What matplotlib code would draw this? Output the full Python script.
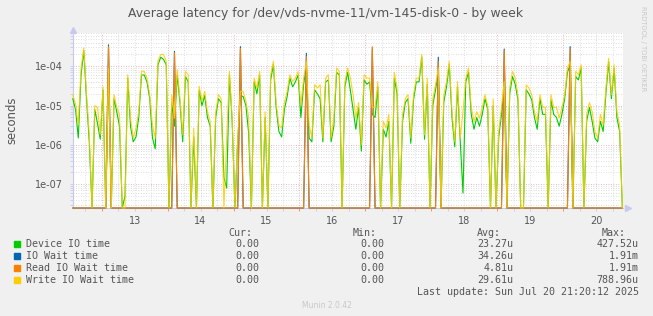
import numpy as np
import pandas as pd
import matplotlib
matplotlib.use("Agg")
import matplotlib.pyplot as plt
import matplotlib.dates as mdates
from matplotlib.ticker import FixedLocator, LogLocator, FuncFormatter, NullFormatter
from matplotlib.patches import Rectangle

# hourly averages in microseconds, starting 2025-07-12 13:30 (0 = idle)
write_wait = [19, 11, 3.2, 90, 290, 19, 1.8, 0, 10, 9, 1.8, 30, 0, 90, 0, 19, 9, 6, 0, 0,
              61, 4.8, 1.5, 2.7, 7, 74, 74, 50, 19, 3.2, 1.5, 134, 200, 200, 134, 0, 19, 4.8, 82, 15,
              1.8, 74, 61, 0, 2.7, 0, 31, 13, 23, 7, 4, 0, 7, 19, 15, 0, 1.5, 74, 4.8, 0,
              1.5, 23, 23, 13, 5, 0, 50, 28, 74, 0, 7, 0, 61, 134, 12, 3.2, 2.7, 12, 23, 61,
              41, 50, 74, 10, 50, 130, 3.2, 1.5, 34, 28, 34, 1.5, 50, 61, 1.5, 4.8, 90, 74, 0, 40,
              90, 50, 19, 4.8, 12, 1.0, 61, 50, 50, 9, 9, 41, 0, 4, 2.7, 6, 0, 70, 28, 0,
              6, 15, 19, 1.5, 19, 50, 50, 200, 1.8, 50, 0, 15, 34, 90, 0, 19, 41, 134, 7, 1.2,
              41, 1.5, 7, 50, 90, 9, 4, 7, 4.8, 9, 19, 10, 0, 15, 0, 2.2, 9, 41, 0, 28,
              74, 50, 19, 0, 0, 34, 28, 19, 7, 4, 19, 9, 9, 0, 19, 9, 9, 4.8, 9, 19,
              90, 134, 0, 74, 61, 110, 0, 6, 12, 7, 2.2, 1.5, 6, 3.2, 28, 160, 19, 110, 7, 3.2,
              0]
device_io = [15, 8, 1.5, 60, 250, 15, 1.2, 0, 8, 3.5, 1.4, 25, 0, 70, 0, 15, 7, 3, 0, 0.05,
             50, 3, 1.2, 1.6, 5, 60, 60, 40, 15, 1.5, 0.8, 110, 170, 150, 110, 0, 12, 3, 60, 12,
             1.2, 55, 40, 0, 1.6, 0, 25, 10, 18, 5, 3, 0, 5, 15, 12, 0.15, 0.08, 60, 4, 0,
             1.2, 18, 17, 10, 2, 0, 40, 20, 60, 0, 5, 0, 45, 110, 9, 2.2, 1.6, 8, 17, 50,
             30, 40, 60, 5, 35, 100, 1.5, 1.2, 25, 20, 15, 1.2, 40, 45, 1.2, 3, 70, 60, 0, 30,
             70, 25, 8, 2.5, 9, 0.7, 45, 35, 40, 6, 5, 30, 0, 2.5, 1.6, 4, 0, 50, 20, 0,
             4, 12, 15, 1.1, 14, 40, 40, 170, 1.4, 35, 0, 10, 25, 70, 0, 12, 30, 110, 5, 0.9,
             30, 1.2, 0.06, 40, 70, 6, 2.5, 5, 3, 6, 15, 8, 0, 10, 0, 1.6, 6, 30, 0, 20,
             55, 35, 14, 0, 0, 25, 20, 14, 5, 2.5, 15, 6, 6, 0, 14, 6, 5, 3, 6, 15,
             70, 110, 0, 55, 45, 90, 0, 4, 9, 4, 1.5, 1.2, 4, 2.2, 20, 130, 15, 90, 5, 2.2,
             0]
# nightly read bursts (hour index, microseconds)
spike_hour = [13, 37, 61, 85, 109, 133, 157, 181]
read_spike = [316, 220, 285, 176, 315, 130, 254, 275]
io_wait_spike = [350, 240, 315, 213, 280, 170, 275, 316]

labels = ["Device IO time", "IO Wait time", "Read IO Wait time", "Write IO Wait time"]
colors = ["#00CC00", "#0066B3", "#FF8000", "#FFCC00"]
cur = ["0.00", "0.00", "0.00", "0.00"]
mins = ["0.00", "0.00", "0.00", "0.00"]
avgs = ["23.27u", "34.26u", "4.81u", "29.61u"]
maxs = ["427.52u", "1.91m", "1.91m", "788.96u"]

times = pd.date_range("2025-07-12 13:30", periods=len(write_wait), freq="h")
read_wait = np.zeros(len(times))
read_wait[spike_hour] = read_spike
io_wait = np.zeros(len(times))
io_wait[spike_hour] = io_wait_spike

ymin, ymax = 2.5e-8, 7.0e-4
series = [device_io, io_wait, read_wait, write_wait]
alphas = [1.0, 1.0, 1.0, 0.85]

txt = "#555555"
fig = plt.figure(figsize=(6.53, 3.16), dpi=100, facecolor="#F0F0F0")
ax = fig.add_axes([72.7 / 653, 1 - 208 / 316, (623.3 - 72.7) / 653, (208 - 33) / 316])
ax.set_facecolor("white")

for vals, c, a in zip(series, colors, alphas):
    y = np.maximum(np.asarray(vals, dtype=float) * 1e-6, ymin)
    ax.plot(times, y, color=c, lw=0.8, alpha=a, clip_on=False, zorder=3)

ax.set_yscale("log")
ax.set_ylim(ymin, ymax)
ax.set_xlim(pd.Timestamp("2025-07-12 13:28"), pd.Timestamp("2025-07-20 21:50"))

ax.yaxis.set_major_locator(FixedLocator([1e-7, 1e-6, 1e-5, 1e-4]))
ax.yaxis.set_major_formatter(FuncFormatter(lambda v, p: format(v, ".0e")))
ax.yaxis.set_minor_locator(LogLocator(base=10, subs=np.arange(2, 10)))
ax.yaxis.set_minor_formatter(NullFormatter())

ax.xaxis.set_major_locator(mdates.DayLocator())
ax.xaxis.set_major_formatter(NullFormatter())
ax.xaxis.set_minor_locator(mdates.HourLocator(byhour=[6, 12, 18]))
ax.xaxis.set_minor_formatter(FuncFormatter(
    lambda v, p: mdates.num2date(v).strftime("%d") if mdates.num2date(v).hour == 12 else ""))

ax.grid(which="major", color="#E8A0A0", ls=(0, (1, 2)), lw=0.6)
ax.grid(which="minor", color="#D4D4D4", ls=(0, (1, 2)), lw=0.6)
ax.set_axisbelow(True)

ax.tick_params(axis="y", which="both", colors="#C8C8F0", length=2, width=0.6,
               labelcolor=txt, labelsize=7, pad=5)
ax.tick_params(axis="x", which="major", colors="#F08080", length=2, width=0.6)
ax.tick_params(axis="x", which="minor", colors="#C8C8F0", length=2, width=0.6,
               labelcolor=txt, labelsize=7, pad=4)

for s in ["top", "right"]:
    ax.spines[s].set_visible(False)
for s in ["left", "bottom"]:
    ax.spines[s].set_color("#C8C8F0")
    ax.spines[s].set_linewidth(0.8)
ax.plot([0], [1.02], marker="^", ms=4, color="#C8C8F0", transform=ax.transAxes, clip_on=False)
ax.plot([1.008], [0], marker=">", ms=4, color="#C8C8F0", transform=ax.transAxes, clip_on=False)

ax.set_ylabel("seconds", color=txt, fontsize=8.4)
ax.yaxis.set_label_coords(-0.098, 0.5)

fig.text(326 / 653, 1 - 14 / 316, "Average latency for /dev/vds-nvme-11/vm-145-disk-0 - by week",
         ha="center", va="center", color=txt, fontsize=8.9)
fig.text(643 / 653, 1 - 6 / 316, "RRDTOOL / TOBI OETIKER", rotation=270, ha="center", va="top",
         color="#C8C8C8", fontsize=4.8)

mono = dict(family="DejaVu Sans Mono", fontsize=7.2, color=txt, va="center")
W, H = 653, 316
for x, h in zip([252, 377, 501, 626], ["Cur:", "Min:", "Avg:", "Max:"]):
    fig.text(x / W, 1 - 232.7 / H, h, ha="right", **mono)
for k in range(4):
    yk = 244 + 12 * k
    fig.patches.append(Rectangle((14.2 / W, 1 - (yk + 3) / H), 6 / W, 6 / H,
                                 transform=fig.transFigure, color=colors[k]))
    fig.text(26 / W, 1 - yk / H, labels[k], ha="left", **mono)
    for x, col in zip([259, 384, 513.7, 638.7], [cur, mins, avgs, maxs]):
        fig.text(x / W, 1 - yk / H, col[k], ha="right", **mono)
fig.text(638.7 / W, 1 - 292.3 / H, "Last update: Sun Jul 20 21:20:12 2025", ha="right", **mono)
fig.text(326.7 / W, 1 - 305.3 / H, "Munin 2.0.42", ha="center", va="center", color="#C8C8C8",
         fontsize=5.5)

fig.savefig("out.png", dpi=100, facecolor=fig.get_facecolor())
